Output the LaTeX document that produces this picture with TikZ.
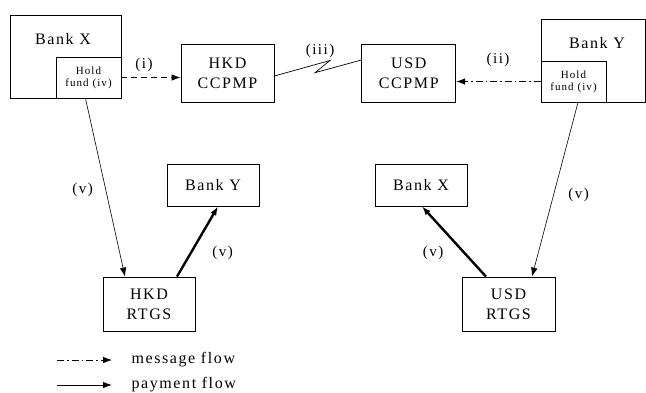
\documentclass[tikz,border=0pt]{standalone}
\usepackage{fontspec}
\setmainfont[LetterSpace=10]{Liberation Serif}
\usetikzlibrary{arrows.meta, positioning}

\tikzset{
  box/.style={draw, line width=0.8pt, align=center, inner sep=0pt, font=\fontsize{16}{20}\selectfont},
  holdbox/.style={draw, line width=0.8pt, align=center, inner sep=0pt, minimum width=65pt, minimum height=41pt, font=\fontsize{11}{12}\selectfont},
  tip/.style={-{Latex[length=9pt, width=6.5pt]}},
  msgline/.style={line width=0.8pt, dash pattern=on 6pt off 4pt, tip},
  msgdot/.style={line width=0.8pt, dash pattern=on 7pt off 3pt on 1.5pt off 3pt, tip},
  payline/.style={line width=0.6pt, tip},
  paythick/.style={line width=2.4pt, -{Latex[length=9pt, width=6.5pt]}},
  lbl/.style={font=\fontsize{15}{17}\selectfont}
}

\begin{document}
\begin{tikzpicture}[x=1pt, y=-1pt]
    \useasboundingbox (0,0) rectangle (646,392);

		\node (bx) at (65.5,56.5) [box, minimum width=111pt, minimum height=83pt] {};
		\node[anchor=south east] (hx) at (bx.south east) [holdbox] {Hold\\fund (iv)};
		\node (bxt) at (63,39) [font=\fontsize{16}{18}\selectfont] {Bank X};

		\node (by) at (593.25,60.5) [box, minimum width=104.5pt, minimum height=83pt] {};
		\node[anchor=south west] (hy) at (by.south west) [holdbox] {Hold\\fund (iv)};
		\node (byt) at (597,43) [font=\fontsize{16}{18}\selectfont] {Bank Y};

		\node (hccp) at (227.5,73) [box, minimum width=93pt, minimum height=58pt] {HKD\\CCPMP};
		\node[right=87pt of hccp] (uccp) [box, minimum width=94pt, minimum height=58pt] {USD\\CCPMP};

		\node (byl) at (213,185) [box, minimum width=92pt, minimum height=42pt] {Bank Y};
		\node (bxl) at (421,185) [box, minimum width=92pt, minimum height=42pt] {Bank X};

		\node (hrtgs) at (149,304) [box, minimum width=92pt, minimum height=54pt] {HKD\\RTGS};
		\node (urtgs) at (508.5,304) [box, minimum width=93pt, minimum height=54pt] {USD\\RTGS};

		\draw [msgline] (hx.east) -- (hx.east -| hccp.west);
		\node (li) at (144,65) [lbl] {(i)};
		\draw [msgdot] (hy.west) -- (hy.west -| uccp.east);
		\node (lii) at (498,60) [lbl] {(ii)};

		\coordinate (zz1) at (330,60.5);
		\coordinate (zz2) at (315,72.7);
		\draw [line width=0.7pt] ([yshift=-3pt]hccp.east) -- (zz1) -- (zz2) -- ([yshift=13pt]uccp.west);
		\node (liii) at (320,50.5) [lbl] {(iii)};

		\draw [payline] ([xshift=-3pt]hx.south) -- ([xshift=-24pt]hrtgs.north);
		\node (lv1) at (82.5,190) [lbl] {(v)};
		\draw [paythick] ([xshift=28pt]hrtgs.north) -- ([xshift=5pt]byl.south);
		\node (lv2) at (222.5,252.5) [lbl] {(v)};

		\draw [payline] ([xshift=4.5pt]hy.south) -- ([xshift=23.5pt]urtgs.north);
		\node (lv3) at (578.5,195) [lbl] {(v)};
		\draw [paythick] ([xshift=-22.5pt]urtgs.north) -- ([xshift=1pt]bxl.south);
		\node (lv4) at (433,252.5) [lbl] {(v)};

		\coordinate (m1) at (57,360);
		\coordinate (m2) at (112,360);
		\draw [msgdot] (m1) -- (m2);
		\node[anchor=west] (mt) at (128,360) [font=\fontsize{16}{18}\selectfont] {message flow};
		\coordinate (p1) at (57,385);
		\coordinate (p2) at (112,385);
		\draw [payline, line width=1pt] (p1) -- (p2);
		\node[anchor=west] (pt) at (128,385) [font=\fontsize{16}{18}\selectfont] {payment flow};
\end{tikzpicture}
\end{document}
